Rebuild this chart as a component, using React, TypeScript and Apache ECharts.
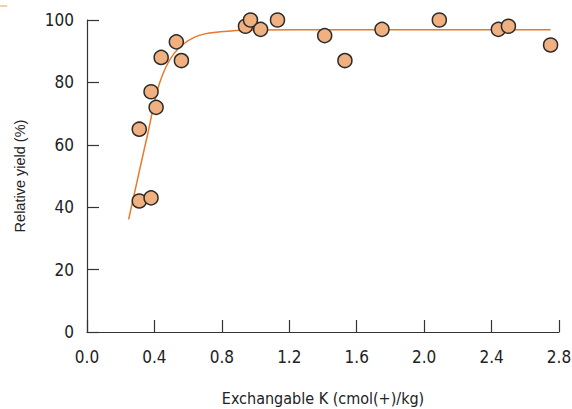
import React, { useEffect, useRef } from "react";
import * as echarts from "echarts";

const pointX = [0.31, 0.31, 0.38, 0.38, 0.41, 0.44, 0.53, 0.56, 0.94, 0.97, 1.03, 1.13, 1.41, 1.53, 1.75, 2.09, 2.44, 2.5, 2.75];
const pointY = [65, 42, 43, 77, 72, 88, 93, 87, 98, 100, 97, 100, 95, 87, 97, 100, 97, 98, 92];

const curveX = [0.247, 0.361, 0.43, 0.517, 0.642, 0.79, 1.0, 1.5, 2.75];
const curveY = [36.1, 63.7, 79.7, 89.3, 94.6, 96.2, 96.8, 96.9, 96.9];

const xTicks = { min: 0, max: 2.8, interval: 0.4 };
const yTicks = { min: 0, max: 100, interval: 20 };

const FONT = "'Liberation Sans Narrow', 'DejaVu Sans Condensed', 'Roboto', sans-serif";
const FONT_Y = "'Liberation Sans', Arial, sans-serif";

export default function App() {
  const ref = useRef<HTMLDivElement>(null);
  useEffect(() => {
    if (!ref.current) return;
    const chart = echarts.init(ref.current, undefined, { renderer: "svg" });
    const axisLine = { show: true, lineStyle: { color: "#333", width: 1.2 } };
    chart.setOption({
      animation: false,
      grid: { left: 87, right: 13, top: 20, bottom: 77, containLabel: false, outerBoundsMode: "none" },
      xAxis: {
        type: "value",
        min: xTicks.min,
        max: xTicks.max,
        interval: xTicks.interval,
        name: "Exchangable K (cmol(+)/kg)",
        nameLocation: "middle",
        nameGap: 58,
        nameTextStyle: { fontFamily: FONT, fontSize: 16, color: "#222" },
        axisLine,
        axisTick: { show: true, inside: true, length: 12, lineStyle: { color: "#333", width: 1.2 } },
        splitLine: { show: false },
        axisLabel: {
          fontFamily: FONT,
          fontSize: 17,
          color: "#222",
          margin: 16,
          formatter: (v: number) => v.toFixed(1),
        },
      },
      yAxis: {
        type: "value",
        min: yTicks.min,
        max: yTicks.max,
        interval: yTicks.interval,
        name: "Relative yield (%)",
        nameLocation: "middle",
        nameGap: 60,
        nameTextStyle: { fontFamily: FONT_Y, fontSize: 14.5, color: "#222" },
        axisLine,
        axisTick: { show: true, inside: true, length: 12, lineStyle: { color: "#333", width: 1.2 } },
        splitLine: { show: false },
        axisLabel: { fontFamily: FONT, fontSize: 17, color: "#222", margin: 13 },
      },
      graphic: [
        {
          type: "line",
          shape: { x1: 0, y1: 6, x2: 7, y2: 6 },
          style: { stroke: "#f6cfa8", lineWidth: 2 },
        },
      ],
      series: [
        {
          type: "line",
          data: curveX.map((x, i) => [x, curveY[i]]),
          smooth: 0.35,
          showSymbol: false,
          symbol: "none",
          lineStyle: { color: "#e8782a", width: 1.5 },
          z: 2,
        },
        {
          type: "scatter",
          data: pointX.map((x, i) => [x, pointY[i]]),
          symbolSize: 14,
          itemStyle: { color: "#f0b07f", borderColor: "#2b2b2b", borderWidth: 1.5, opacity: 1 },
          z: 3,
        },
      ],
    });
    return () => chart.dispose();
  }, []);
  return <div ref={ref} style={{ width: 572, height: 409, position: "absolute", left: 0, top: 0 }} />;
}
